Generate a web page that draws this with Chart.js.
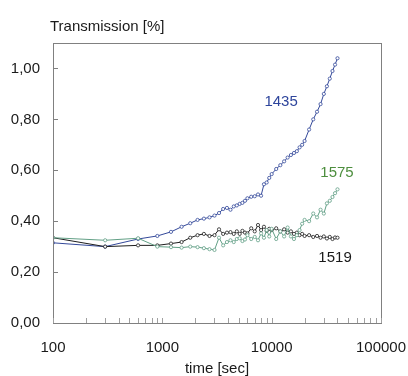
<!DOCTYPE html>
<html><head><meta charset="utf-8">
<script src="https://cdn.jsdelivr.net/npm/chart.js@4/dist/chart.umd.min.js"></script>
<style>html,body{margin:0;padding:0;background:#fff}canvas{display:block}</style>
</head><body>
<canvas id="c" width="408" height="376"></canvas>
<script>
// ---- data ----
const times = [100, 300, 600, 900, 1200, 1500, 1800, 2100, 2400, 2700, 3000, 3300, 3600, 3900, 4200, 4500, 4800, 5100, 5400, 5700,
  6000, 6500, 7000, 7500, 8000, 8500, 9000, 9500, 10000, 11000, 12000, 13000, 14000, 15000, 16000, 17000, 18000, 19000, 20000,
  22000, 24000, 26000, 28000, 30000, 32000, 34000, 36000, 38000, 40000];
const s1435 = [0.315, 0.300, 0.330, 0.342, 0.358, 0.378, 0.392, 0.405, 0.410, 0.415, 0.422, 0.432, 0.448, 0.452, 0.445, 0.458, 0.462, 0.468, 0.472, 0.480,
  0.490, 0.496, 0.498, 0.505, 0.500, 0.545, 0.552, 0.570, 0.585, 0.605, 0.620, 0.635, 0.650, 0.660, 0.668, 0.675, 0.690, 0.700, 0.715,
  0.760, 0.800, 0.830, 0.860, 0.900, 0.930, 0.960, 0.990, 1.015, 1.040];
const s1519 = [0.335, 0.300, 0.305, 0.305, 0.312, 0.318, 0.335, 0.345, 0.350, 0.342, 0.345, 0.368, 0.350, 0.355, 0.357, 0.350, 0.360, 0.350, 0.362, 0.355,
  0.352, 0.372, 0.360, 0.385, 0.365, 0.378, 0.362, 0.370, 0.365, 0.372, 0.360, 0.368, 0.355, 0.360, 0.350, 0.355, 0.345, 0.350, 0.342,
  0.345, 0.338, 0.342, 0.335, 0.340, 0.332, 0.338, 0.330, 0.336, 0.335];
const s1575 = [0.335, 0.325, 0.333, 0.300, 0.298, 0.296, 0.300, 0.298, 0.294, 0.290, 0.287, 0.335, 0.305, 0.318, 0.325, 0.318, 0.330, 0.333, 0.322, 0.328,
  0.345, 0.330, 0.338, 0.325, 0.352, 0.335, 0.365, 0.340, 0.370, 0.330, 0.360, 0.340, 0.375, 0.340, 0.330, 0.345, 0.365, 0.390, 0.405,
  0.400, 0.430, 0.415, 0.445, 0.430, 0.470, 0.480, 0.495, 0.510, 0.525];
const seriesNames = ['1435', '1519', '1575'];
const lineColors = ['#34499a', '#1e1e1e', '#62a086'];
const labelColors = ['#2e459c', '#1a1a1a', '#4d8e3e'];
const labelAt = [[12200, 0.87], [38000, 0.255], [39600, 0.59]];
const yTicks = [0, 0.2, 0.4, 0.6, 0.8, 1.0];
const xTicks = [100, 1000, 10000, 100000];
const xMinor = [200, 300, 400, 500, 600, 700, 800, 900, 2000, 3000, 4000, 5000, 6000, 7000, 8000, 9000,
  20000, 30000, 40000, 50000, 60000, 70000, 80000, 90000];
const chartTitle = 'Transmission [%]';
const xTitle = 'time [sec]';

const FONT = '"Liberation Sans", Arial, sans-serif';
const series = [s1435, s1519, s1575];

const decor = {
  id: 'decor',
  beforeDraw(chart) {
    const ctx = chart.ctx;
    ctx.save(); ctx.fillStyle = '#fff'; ctx.fillRect(0, 0, chart.width, chart.height); ctx.restore();
  },
  afterDraw(chart) {
    const { ctx, chartArea: a, scales: { x, y } } = chart;
    ctx.save();
    ctx.strokeStyle = '#808080'; ctx.lineWidth = 1;
    ctx.strokeRect(Math.round(a.left) + 0.5, Math.round(a.top) + 0.5, Math.round(a.right - a.left), Math.round(a.bottom - a.top));
    // inward tick marks
    ctx.beginPath();
    yTicks.forEach(v => { const p = Math.round(y.getPixelForValue(v)) + 0.5; ctx.moveTo(a.left, p); ctx.lineTo(a.left + 5, p); });
    ctx.stroke();
    ctx.strokeStyle = '#a0a0a0';
    ctx.beginPath();
    xMinor.concat(xTicks).forEach(v => { const p = Math.round(x.getPixelForValue(v)) + 0.5; ctx.moveTo(p, a.bottom); ctx.lineTo(p, a.bottom - 5); });
    ctx.stroke();
    // title
    ctx.font = '15px ' + FONT; ctx.fillStyle = '#1a1a1a';
    ctx.textAlign = 'left'; ctx.textBaseline = 'middle';
    ctx.fillText(chartTitle, a.left - 3, a.top - 16);
    // series labels
    ctx.textAlign = 'center';
    seriesNames.forEach((n, i) => {
      ctx.fillStyle = labelColors[i];
      ctx.fillText(n, x.getPixelForValue(labelAt[i][0]), y.getPixelForValue(labelAt[i][1]));
    });
    ctx.restore();
  }
};

new Chart(document.getElementById('c'), {
  type: 'line',
  data: {
    datasets: series.map((s, i) => ({
      label: seriesNames[i],
      data: times.map((t, k) => ({ x: t, y: s[k] })),
      borderColor: lineColors[i],
      borderWidth: 1,
      pointRadius: 1.6,
      pointBorderWidth: 0.8,
      pointBackgroundColor: '#ffffff',
      pointBorderColor: lineColors[i],
      tension: 0,
      fill: false
    })).reverse()
  },
  options: {
    responsive: false,
    animation: false,
    events: [],
    layout: { padding: { top: 43, right: 27, left: 0, bottom: 0 } },
    plugins: { legend: { display: false }, tooltip: { enabled: false } },
    scales: {
      x: {
        type: 'logarithmic', min: 100, max: 100000,
        afterBuildTicks: s => { s.ticks = xTicks.map(v => ({ value: v })); },
        afterFit: s => { s.height = 53; s.paddingLeft = 0; s.paddingRight = 0; },
        grid: { display: false, drawTicks: false },
        border: { display: false },
        ticks: { callback: v => String(v), font: { family: FONT, size: 15 }, color: '#1a1a1a', padding: 16, maxRotation: 0, autoSkip: false },
        title: { display: true, text: xTitle, font: { family: FONT, size: 15 }, color: '#1a1a1a', padding: { top: 0, bottom: -2 } }
      },
      y: {
        type: 'linear', min: 0, max: 1.1,
        afterBuildTicks: s => { s.ticks = yTicks.map(v => ({ value: v })); },
        afterFit: s => { s.width = 53; s.paddingTop = 0; s.paddingBottom = 0; },
        grid: { display: false, drawTicks: false },
        border: { display: false },
        ticks: { callback: v => v.toFixed(2).replace('.', ','), font: { family: FONT, size: 15 }, color: '#1a1a1a', padding: 13 }
      }
    }
  },
  plugins: [decor]
});
</script>
</body></html>
